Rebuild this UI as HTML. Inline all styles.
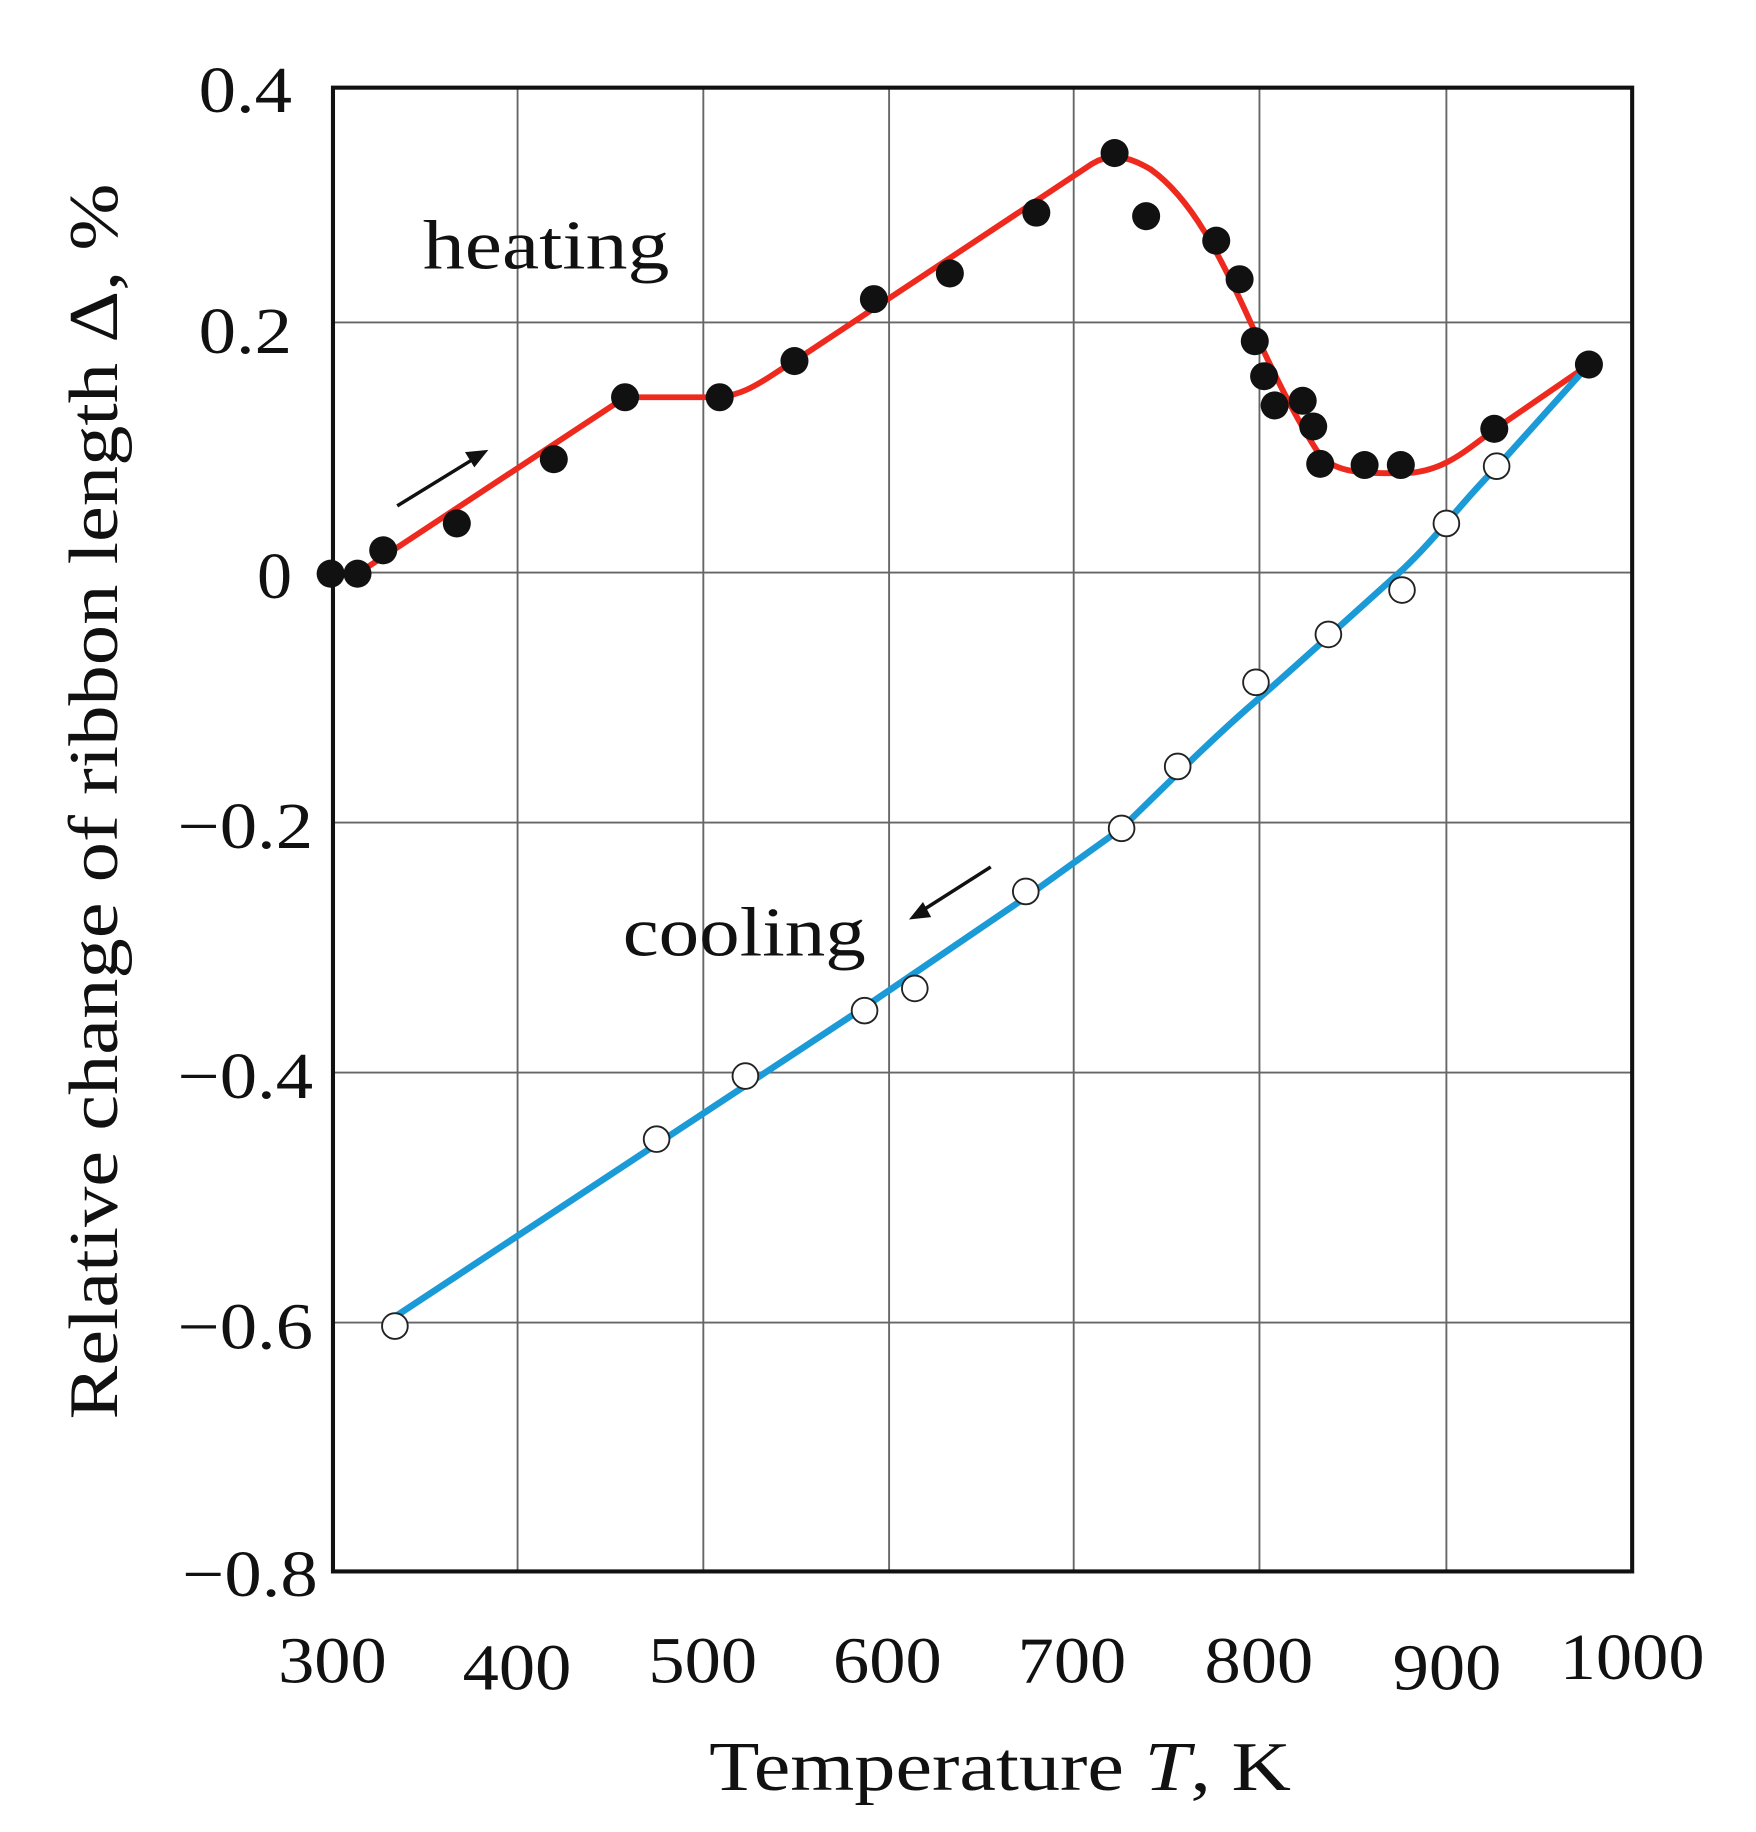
<!DOCTYPE html>
<html><head><meta charset="utf-8"><style>html,body{margin:0;padding:0;background:#fff}svg{display:block}</style></head>
<body>
<svg width="1756" height="1832" viewBox="0 0 1503 1568" xmlns="http://www.w3.org/2000/svg" font-family="'Liberation Serif', serif" fill="#111">
<rect width="1503" height="1568" fill="#fff"/>
<g stroke="#666" stroke-width="1.6">
<line x1="443" y1="75" x2="443" y2="1345"/><line x1="602" y1="75" x2="602" y2="1345"/><line x1="761" y1="75" x2="761" y2="1345"/><line x1="919" y1="75" x2="919" y2="1345"/><line x1="1078" y1="75" x2="1078" y2="1345"/><line x1="1238" y1="75" x2="1238" y2="1345"/>
<line x1="285" y1="276" x2="1397" y2="276"/><line x1="285" y1="490" x2="1397" y2="490"/><line x1="285" y1="704" x2="1397" y2="704"/><line x1="285" y1="918" x2="1397" y2="918"/><line x1="285" y1="1132" x2="1397" y2="1132"/>
</g>
<rect x="285" y="75" width="1112" height="1270" fill="none" stroke="#111" stroke-width="3.5"/>
<g font-size="56" lengthAdjust="spacingAndGlyphs">
<text x="170" y="96" textLength="80" lengthAdjust="spacingAndGlyphs">0.4</text>
<text x="170" y="302" textLength="80" lengthAdjust="spacingAndGlyphs">0.2</text>
<text x="220" y="512" textLength="30" lengthAdjust="spacingAndGlyphs">0</text>
<text x="152" y="726" textLength="116" lengthAdjust="spacingAndGlyphs">−0.2</text>
<text x="152" y="940" textLength="116" lengthAdjust="spacingAndGlyphs">−0.4</text>
<text x="152" y="1154" textLength="116" lengthAdjust="spacingAndGlyphs">−0.6</text>
<text x="156" y="1366" textLength="116" lengthAdjust="spacingAndGlyphs">−0.8</text>
</g>
<g font-size="56">
<text x="238" y="1440" textLength="93" lengthAdjust="spacingAndGlyphs">300</text>
<text x="396" y="1446" textLength="93" lengthAdjust="spacingAndGlyphs">400</text>
<text x="555" y="1440" textLength="93" lengthAdjust="spacingAndGlyphs">500</text>
<text x="713" y="1440" textLength="93" lengthAdjust="spacingAndGlyphs">600</text>
<text x="871" y="1440" textLength="93" lengthAdjust="spacingAndGlyphs">700</text>
<text x="1031" y="1440" textLength="93" lengthAdjust="spacingAndGlyphs">800</text>
<text x="1192" y="1446" textLength="93" lengthAdjust="spacingAndGlyphs">900</text>
<text x="1335" y="1437" textLength="124" lengthAdjust="spacingAndGlyphs">1000</text>
</g>
<text x="607" y="1532" font-size="60" textLength="498" lengthAdjust="spacingAndGlyphs">Temperature <tspan font-style="italic">T</tspan>, K</text>
<text transform="translate(100,1215) rotate(-90)" font-size="60" textLength="1058" lengthAdjust="spacingAndGlyphs">Relative change of ribbon length Δ, %</text>
<text x="362" y="230" font-size="60" textLength="211" lengthAdjust="spacingAndGlyphs">heating</text>
<text x="533" y="818" font-size="60" textLength="208" lengthAdjust="spacingAndGlyphs">cooling</text>
<g stroke="#111" stroke-width="3"><line x1="340" y1="433" x2="405" y2="393"/><line x1="848" y1="742" x2="790" y2="779"/></g>
<polygon points="418,385 398,387 406,400" fill="#111"/>
<polygon points="778,787 790,772 797,785" fill="#111"/>
<path d="M283,491 L306,491 L535,340 L610,340 C640,340 660,320 680,309 L935,140 C950,131 965,133 985,145 C1020,170 1045,220 1070,275 C1090,320 1110,360 1130,390 C1145,405 1165,405 1200,405 C1235,405 1255,385 1280,367 L1360,312" fill="none" stroke="#ee2a1f" stroke-width="5" stroke-linejoin="round"/>
<path d="M338,1127 L740,862 L878,768 L960,709 C1000,670 1040,630 1075,600 C1100,578 1120,560 1140,542 L1200,488 C1230,460 1255,425 1281,400 L1360,312" fill="none" stroke="#1a9ad6" stroke-width="5.6" stroke-linejoin="round"/>
<g fill="#111">
<circle cx="283" cy="491" r="12"/><circle cx="306" cy="491" r="12"/><circle cx="328" cy="471" r="12"/><circle cx="391" cy="448" r="12"/><circle cx="474" cy="393" r="12"/><circle cx="535" cy="340" r="12"/><circle cx="616" cy="340" r="12"/><circle cx="680" cy="309" r="12"/><circle cx="748" cy="256" r="12"/><circle cx="813" cy="234" r="12"/><circle cx="887" cy="182" r="12"/><circle cx="954" cy="131" r="12"/><circle cx="981" cy="185" r="12"/><circle cx="1041" cy="206" r="12"/><circle cx="1061" cy="239" r="12"/><circle cx="1074" cy="292" r="12"/><circle cx="1082" cy="322" r="12"/><circle cx="1091" cy="347" r="12"/><circle cx="1115" cy="343" r="12"/><circle cx="1124" cy="365" r="12"/><circle cx="1130" cy="397" r="12"/><circle cx="1168" cy="398" r="12"/><circle cx="1199" cy="398" r="12"/><circle cx="1279" cy="367" r="12"/><circle cx="1360" cy="312" r="12"/>
</g>
<g fill="#fff" stroke="#222" stroke-width="1.6">
<circle cx="338" cy="1135" r="11"/><circle cx="562" cy="975" r="11"/><circle cx="638" cy="921" r="11"/><circle cx="740" cy="865" r="11"/><circle cx="783" cy="846" r="11"/><circle cx="878" cy="763" r="11"/><circle cx="960" cy="709" r="11"/><circle cx="1008" cy="656" r="11"/><circle cx="1075" cy="584" r="11"/><circle cx="1137" cy="543" r="11"/><circle cx="1200" cy="505" r="11"/><circle cx="1238" cy="448" r="11"/><circle cx="1281" cy="399" r="11"/>
</g>
</svg>
</body></html>
